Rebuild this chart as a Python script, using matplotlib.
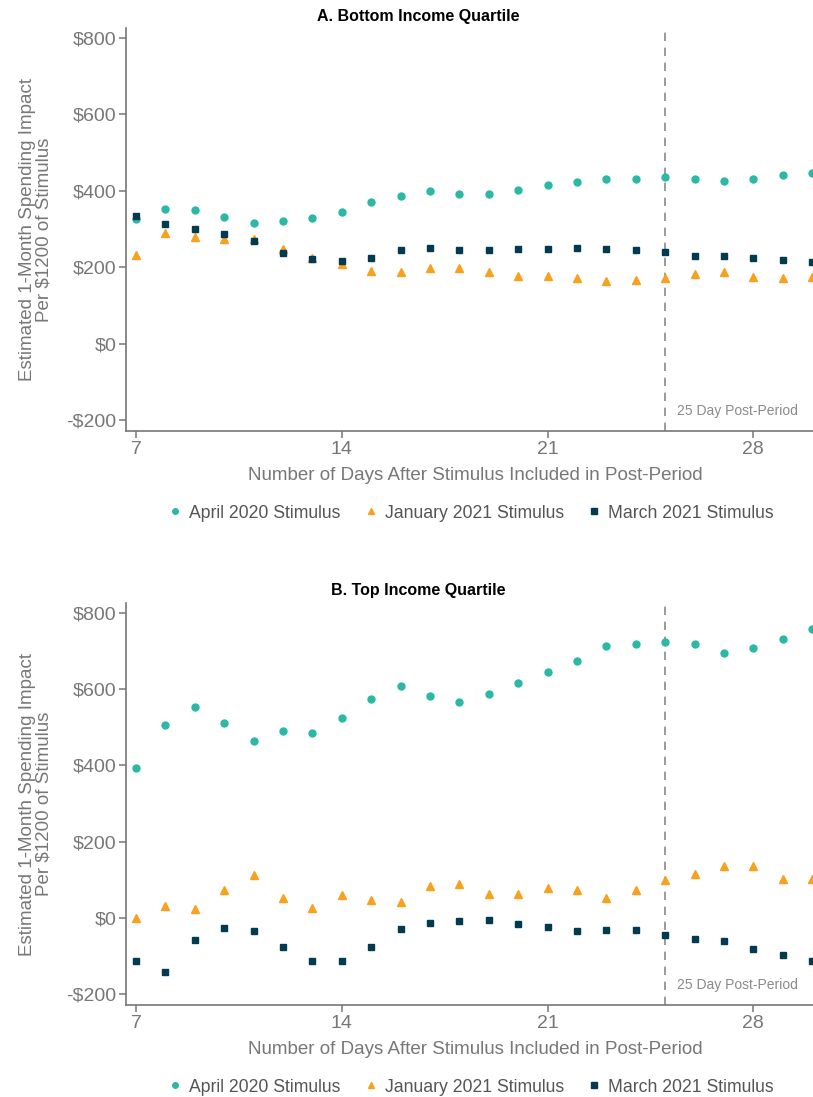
import numpy as np
import matplotlib
matplotlib.use("Agg")
import matplotlib.pyplot as plt
from matplotlib.ticker import FuncFormatter

plt.rcParams['font.family'] = ['Liberation Sans', 'DejaVu Sans']

# Days after stimulus included in post-period
days = np.arange(7, 31)

# A. Bottom income quartile ($ per $1200 of stimulus)
bottom_april = [325, 353, 350, 331, 316, 320, 329, 345, 370, 387, 398, 392,
                391, 403, 416, 424, 431, 431, 436, 432, 425, 430, 440, 446]
bottom_jan = [233, 289, 280, 274, 273, 247, 223, 209, 191, 186, 198, 197,
              186, 177, 176, 171, 164, 166, 172, 183, 186, 174, 172, 174]
bottom_mar = [333, 314, 301, 288, 269, 238, 222, 215, 225, 246, 251, 246,
              246, 248, 248, 251, 248, 246, 240, 230, 229, 225, 219, 214]

# B. Top income quartile
top_april = [393, 507, 553, 511, 463, 489, 486, 525, 573, 607, 582, 565,
             588, 617, 646, 675, 713, 718, 724, 718, 695, 708, 732, 758]
top_jan = [-1, 32, 22, 74, 111, 51, 25, 59, 46, 42, 82, 88,
           62, 62, 79, 72, 51, 72, 98, 115, 137, 137, 102, 102]
top_mar = [-114, -142, -58, -27, -34, -77, -113, -113, -76, -30, -14, -8,
           -7, -17, -24, -35, -32, -32, -45, -56, -60, -81, -98, -113]

series_labels = ['April 2020 Stimulus', 'January 2021 Stimulus', 'March 2021 Stimulus']
colors = ['#2BB8A5', '#F7A11F', '#033A4F']
markers = ['o', '^', 's']
yticks = [-200, 0, 200, 400, 600, 800]
xticks = [7, 14, 21, 28]
cutoff_day = 25

gray = '#777777'

fig = plt.figure(figsize=(8.13, 10.97), dpi=100)
W, H = 813, 1097

panels = [
    ('A. Bottom Income Quartile', [bottom_april, bottom_jan, bottom_mar], 28, 431, 17, 513),
    ('B. Top Income Quartile', [top_april, top_jan, top_mar], 603, 1005, 591, 1087),
]

def dollar(v, pos):
    return '-$%d' % abs(v) if v < 0 else '$%d' % v

for title, data, top_px, bot_px, title_px, legend_px in panels:
    ax = fig.add_axes([126 / W, 1 - bot_px / H, 1 - 126 / W, (bot_px - top_px) / H])
    for vals, c, m, lab in zip(data, colors, markers, series_labels):
        ms = 6 if m == '^' else 5
        ax.plot(days, vals, linestyle='none', marker=m, color=c,
                markersize=ms, label=lab, zorder=3)
    ax.axvline(cutoff_day, color='#8a8a8a', linestyle=(0, (5, 4)), linewidth=1.2, zorder=1)
    ax.text(cutoff_day + 0.42, -177, '25 Day Post-Period', color='#8a8a8a',
            fontsize=10, va='center', ha='left')

    ax.set_xlim(6.66, 30.03)
    ax.set_ylim(-229, 826)
    ax.set_xticks(xticks)
    ax.set_yticks(yticks)
    ax.yaxis.set_major_formatter(FuncFormatter(dollar))

    for s in ['top', 'right']:
        ax.spines[s].set_visible(False)
    for s in ['left', 'bottom']:
        ax.spines[s].set_color(gray)
        ax.spines[s].set_linewidth(1.2)
    ax.tick_params(colors=gray, labelcolor=gray, labelsize=14, length=5, width=1.1,
                   pad=2)

    ax.set_xlabel('Number of Days After Stimulus Included in Post-Period',
                  fontsize=13.5, color=gray)
    ax.xaxis.set_label_coords(0.508, -0.089)
    ax.set_ylabel('Estimated 1-Month Spending Impact\nPer $1200 of Stimulus',
                  fontsize=13.5, color=gray, labelpad=10, linespacing=0.92)

    fig.text(418 / W, 1 - title_px / H, title, fontsize=11.5, fontweight='bold',
             ha='center', va='center', color='black')

    leg_handles = [plt.Line2D([], [], linestyle='none', marker=m, color=c,
                              markersize=5 if m == '^' else 4)
                   for m, c in zip(markers, colors)]
    fig.legend(leg_handles, series_labels, loc='center', ncol=3, frameon=False,
               bbox_to_anchor=(470 / W, 1 - legend_px / H), fontsize=12.7,
               handletextpad=0.3, columnspacing=1.2, handlelength=1.0,
               labelcolor='#555555')

fig.savefig('out.png', dpi=100)
